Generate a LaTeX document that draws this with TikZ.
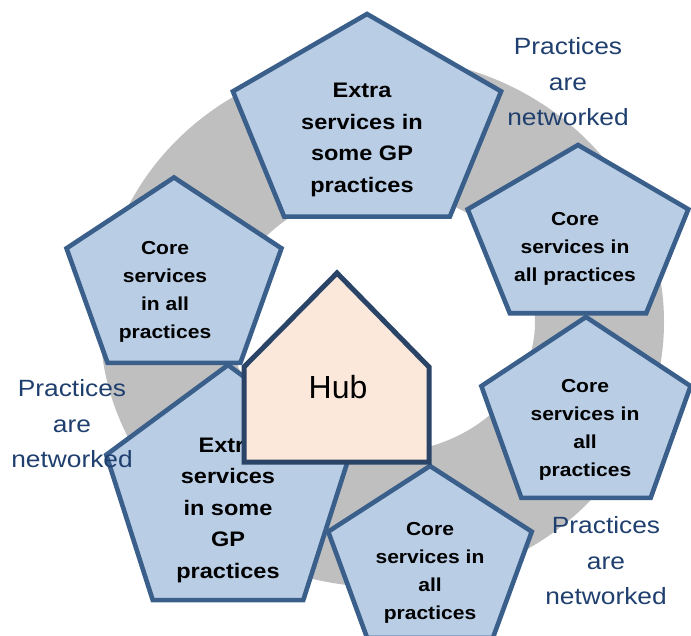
\documentclass[tikz,border=0pt]{standalone}
\usepackage{fontspec}
\setmainfont{Liberation Sans}[FakeStretch=1.12]
\newfontfamily\hubfont{Liberation Sans}
\usetikzlibrary{positioning}

\definecolor{ringgrey}{HTML}{BFBFBF}
\definecolor{pentfill}{HTML}{B9CDE5}
\definecolor{pentline}{HTML}{3A5F8B}
\definecolor{hubfill}{HTML}{FCE8DA}
\definecolor{hubline}{HTML}{2A4468}
\definecolor{nettext}{HTML}{1F3F6E}

\begin{document}
\begin{tikzpicture}[x=1pt,y=-1pt,
	pent/.style={draw=pentline,fill=pentfill,line width=4.6pt},
	hubbox/.style={draw=hubline,fill=hubfill,line width=5pt},
	bigtext/.style={font=\bfseries\fontsize{21}{31.5}\selectfont,align=center},
	smalltext/.style={font=\bfseries\fontsize{18.8}{28}\selectfont,align=center},
	nettxt/.style={text=nettext,font=\fontsize{23.5}{35.5}\selectfont,align=center}]
	\useasboundingbox (0,0) rectangle (691,636);
	\clip (0,0) rectangle (691,636);

	% grey ring
	\fill[ringgrey,even odd rule] (382,322) ellipse [x radius=282,y radius=265]
		(382,322) ellipse [x radius=153,y radius=131];

	% pentagons: centre x/centre y/x radius/y radius
	\foreach \cx/\cy/\rx/\ry in {367/126/141/112, 578/238/116/93, 586/417/110/100,
		174/280/113/102.5, 228/495/128/130, 430/561/107/95}
		\draw[pent,shift={(\cx,\cy)},xscale=\rx,yscale=\ry]
			(270:1) -- (342:1) -- (54:1) -- (126:1) -- (198:1) -- cycle;

	\node[bigtext] (extraTop) at (362,140) {Extra\\services in\\some GP\\practices};
	\node[smalltext] (coreRightUp) at (575,249) {Core\\services in\\all practices};
	\node[smalltext] (coreRightLow) at (585,430) {Core\\services in\\all\\practices};
	\node[smalltext] (coreLeft) at (165,292) {Core\\services\\in all\\practices};
	\node[bigtext] (extraLeft) at (228,510) {Extra\\services\\in some\\GP\\practices};
	\node[smalltext] (coreBottom) at (430,573) {Core\\services in\\all\\practices};

	% hub
	\draw[hubbox] (244,462) -- (244,367) -- (337,273) -- (429,367) -- (429,462) -- cycle;
	\node[font=\hubfont\fontsize{32}{38}\selectfont] (hub) at (338,387) {Hub};

	\node[nettxt] (netTop) at (568,82) {Practices\\are\\networked};
	\node[nettxt] (netLeft) at (72,424) {Practices\\are\\networked};
	\node[nettxt] (netBottom) at (606,561) {Practices\\are\\networked};
\end{tikzpicture}
\end{document}
